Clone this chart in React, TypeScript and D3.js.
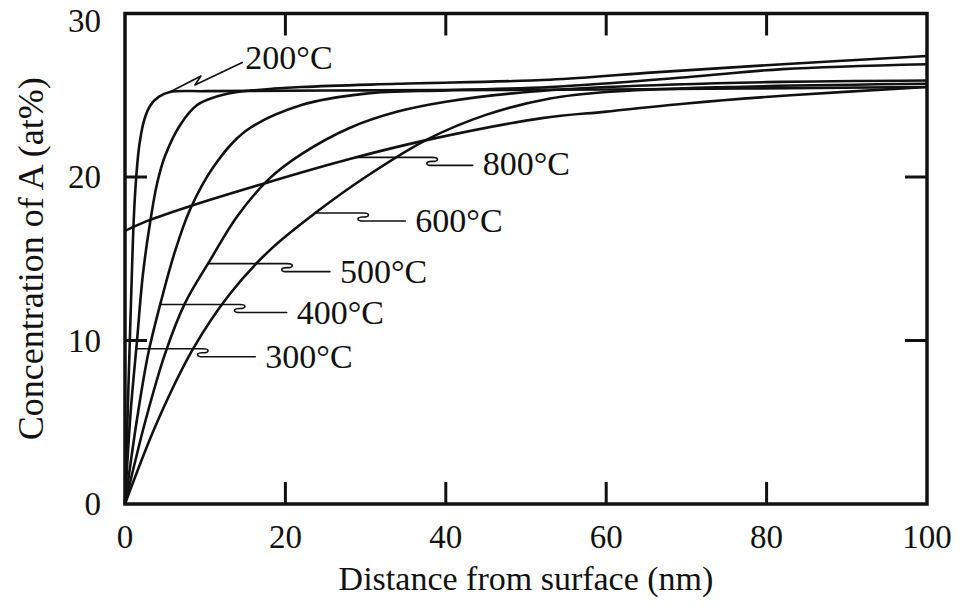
import React from 'react';
import * as d3 from 'd3';

// Axis ticks
const xTicks = [0, 20, 40, 60, 80, 100];
const yTicks = [0, 10, 20, 30];

// Depth profiles: distance (nm) and concentration (at%) for each anneal temperature
const depth200 = [0, 0.3, 0.6, 0.85, 1.1, 1.4, 1.8, 2.4, 3.2, 4.2, 5.6, 10, 30, 60, 100];
const conc200 = [0, 5, 10, 14, 17.5, 20, 22, 23.5, 24.4, 24.9, 25.2, 25.25, 25.3, 25.35, 25.5];

const depth300 = [0, 0.7, 1.5, 2.2, 3, 4, 5, 6.9, 9, 12, 14, 22, 34, 53, 66, 82, 100];
const conc300 = [0, 5.6, 10.0, 13.9, 16.8, 19.6, 21.3, 23.2, 24.4, 25.0, 25.2, 25.5, 25.7, 25.95, 26.4, 26.9, 27.4];

const depth400 = [0, 1.5, 2.9, 4.6, 6.2, 8.1, 11, 15, 22, 30, 40, 53, 70, 82, 100];
const conc400 = [0, 5.2, 9.2, 12.6, 15.4, 18.0, 20.6, 22.8, 24.4, 25.1, 25.3, 25.5, 26.1, 26.6, 26.9];

const depth500 = [0, 2.5, 5, 7.5, 10.6, 14, 18, 22, 28, 34, 40, 48, 60, 80, 100];
const conc500 = [0, 5.0, 9.2, 12.3, 14.9, 17.6, 19.9, 21.4, 23.0, 24.0, 24.6, 25.1, 25.5, 25.8, 25.9];

const depth600 = [0, 4, 8.5, 13, 18, 24, 30, 37.7, 45, 53, 60, 75, 100];
const conc600 = [0, 5, 9.5, 12.8, 15.5, 17.9, 20, 22.3, 23.8, 24.8, 25.2, 25.5, 25.7];

const depth800 = [0, 2.7, 8, 18, 28, 38, 52, 60, 70, 83, 100];
const conc800 = [16.7, 17.3, 18.2, 19.7, 21.1, 22.3, 23.6, 24.0, 24.5, 25.0, 25.5];

const seriesNames = ['200°C', '300°C', '400°C', '500°C', '600°C', '800°C'];
const seriesDepths = [depth200, depth300, depth400, depth500, depth600, depth800];
const seriesConcs = [conc200, conc300, conc400, conc500, conc600, conc800];

// Callouts: concentration where each leader meets its curve, kink position and label position (data units)
const calloutLeaderConc = [25.2, 9.5, 12.2, 14.7, 17.8, 21.2];
const calloutKinkDepth = [9.7, 9.7, 14.3, 20.2, 29.7, 38.3];
const calloutLabelDepth = [15, 17.5, 21.4, 26.8, 36.2, 44.6];
const calloutLabelConc = [27.25, 9.0, 11.7, 14.2, 17.3, 20.8];

const W = 964;
const H = 611;
const FONT = '"Liberation Serif", "Times New Roman", Times, serif';

const x = d3.scaleLinear().domain([0, 100]).range([125, 927]);
const y = d3.scaleLinear().domain([0, 30]).range([504, 13.5]);

function depthAt(depths: number[], concs: number[], c: number): number {
  for (let i = 1; i < depths.length; i++) {
    const c0 = concs[i - 1];
    const c1 = concs[i];
    if ((c0 - c) * (c1 - c) <= 0 && c0 !== c1) {
      const t = (c - c0) / (c1 - c0);
      return depths[i - 1] + t * (depths[i] - depths[i - 1]);
    }
  }
  return depths[0];
}

export default function App() {
  const line = d3
    .line<[number, number]>()
    .x((d) => x(d[0]))
    .y((d) => y(d[1]))
    .curve(d3.curveCatmullRom.alpha(0.5));

  const TICK = 22;

  return (
    <svg
      width={W}
      height={H}
      viewBox={`0 0 ${W} ${H}`}
      style={{ position: 'absolute', left: 0, top: 0, background: '#fff' }}
    >
      <rect x={0} y={0} width={W} height={H} fill="#fff" />

      {/* profiles */}
      <g fill="none" stroke="#111" strokeWidth={2.6} strokeLinejoin="round">
        {seriesNames.map((name, i) => {
          const pts = seriesDepths[i].map((d, j) => [d, seriesConcs[i][j]] as [number, number]);
          return <path key={name} d={line(pts) || ''} />;
        })}
      </g>

      {/* frame */}
      <rect
        x={x(0)}
        y={y(30)}
        width={x(100) - x(0)}
        height={y(0) - y(30)}
        fill="none"
        stroke="#111"
        strokeWidth={3.5}
      />

      {/* ticks on all four sides, pointing inward */}
      <g stroke="#111" strokeWidth={3}>
        {xTicks.slice(1, -1).map((t) => (
          <g key={'xt' + t}>
            <line x1={x(t)} x2={x(t)} y1={y(0)} y2={y(0) - TICK} />
            <line x1={x(t)} x2={x(t)} y1={y(30)} y2={y(30) + TICK} />
          </g>
        ))}
        {yTicks.slice(1, -1).map((t) => (
          <g key={'yt' + t}>
            <line x1={x(0)} x2={x(0) + TICK} y1={y(t)} y2={y(t)} />
            <line x1={x(100)} x2={x(100) - TICK} y1={y(t)} y2={y(t)} />
          </g>
        ))}
      </g>

      {/* tick labels */}
      <g fontFamily={FONT} fontSize={33} fill="#111">
        {xTicks.map((t) => (
          <text key={'xl' + t} x={x(t)} y={548} textAnchor="middle">
            {t}
          </text>
        ))}
        {yTicks.map((t) => (
          <text key={'yl' + t} x={101} y={Math.max(y(t), 21) + 11} textAnchor="end">
            {t}
          </text>
        ))}
      </g>

      {/* axis titles */}
      <text
        x={(x(0) + x(100)) / 2}
        y={590}
        textAnchor="middle"
        fontFamily={FONT}
        fontSize={34}
        fill="#111"
      >
        Distance from surface (nm)
      </text>
      <text
        transform={`translate(43, ${(y(0) + y(30)) / 2}) rotate(-90)`}
        textAnchor="middle"
        fontFamily={FONT}
        fontSize={36}
        fill="#111"
      >
        Concentration of A (at%)
      </text>

      {/* callouts */}
      <g fill="none" stroke="#111" strokeWidth={1.6} strokeLinejoin="round" strokeLinecap="round">
        {seriesNames.map((name, i) => {
          const c = calloutLeaderConc[i];
          const sx = x(depthAt(seriesDepths[i], seriesConcs[i], c));
          const sy = y(c);
          const lx = x(calloutLabelDepth[i]);
          const ly = y(calloutLabelConc[i]);
          if (i === 0) {
            const d = `M${sx},${sy} L${sx + 31},${sy - 16} L${sx + 25},${sy - 7} L${lx - 3},${ly + 4}`;
            return <path key={'c' + name} d={d} />;
          }
          const kx = x(calloutKinkDepth[i]);
          const y2 = sy + 8;
          const d =
            `M${sx},${sy} H${kx} ` +
            `C${kx + 7},${sy} ${kx + 7},${sy + 4} ${kx},${sy + 4} ` +
            `C${kx - 7},${sy + 4} ${kx - 7},${y2} ${kx},${y2} ` +
            `H${lx - 10}`;
          return <path key={'c' + name} d={d} />;
        })}
      </g>
      <g fontFamily={FONT} fontSize={34} fill="#111">
        {seriesNames.map((name, i) => (
          <text key={'t' + name} x={x(calloutLabelDepth[i])} y={y(calloutLabelConc[i]) + 11}>
            {name}
          </text>
        ))}
      </g>
    </svg>
  );
}
